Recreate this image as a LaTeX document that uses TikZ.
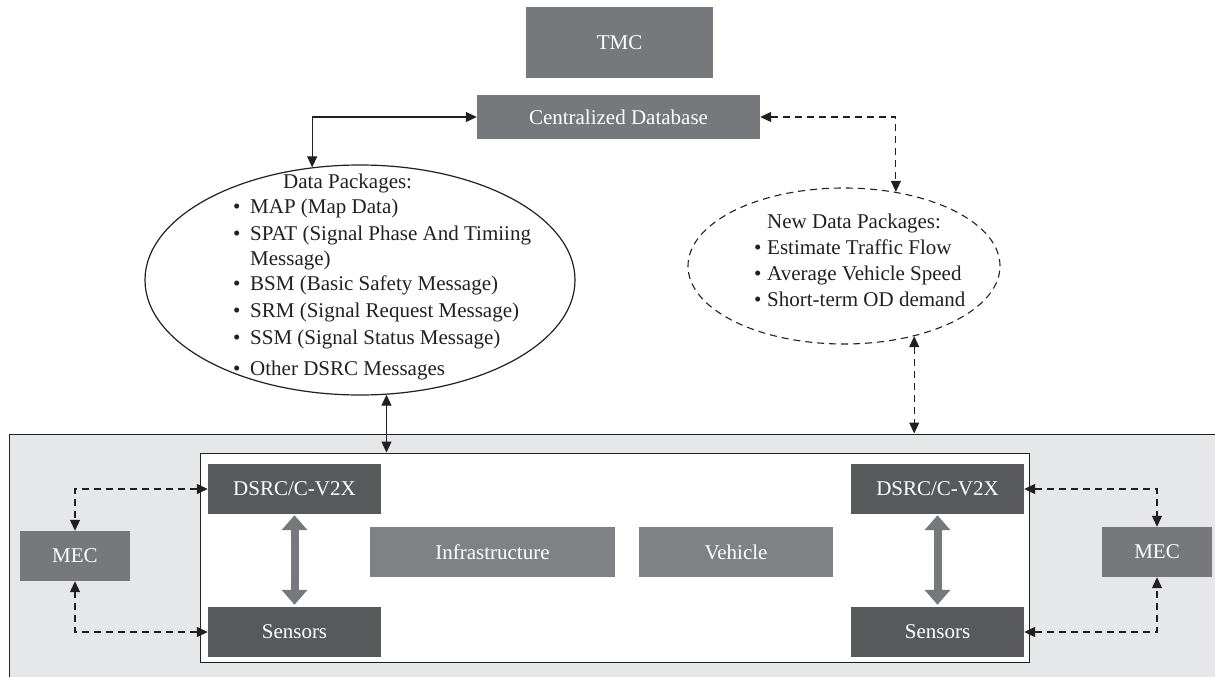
\documentclass[tikz,border=0pt]{standalone}
\usepackage{fontspec}
\setmainfont{Liberation Serif}
\usetikzlibrary{arrows.meta,shapes.geometric}

\definecolor{boxmid}{HTML}{77787B}
\definecolor{boxlight}{HTML}{808184}
\definecolor{boxdark}{HTML}{58595B}
\definecolor{panelfill}{HTML}{E6E7E8}
\definecolor{ink}{HTML}{231F20}

\tikzset{
  lbl/.style={font=\fontsize{21}{25}\selectfont},
  block/.style={rectangle, inner sep=0pt, text=white, lbl},
  midblock/.style={block, fill=boxmid},
  lightblock/.style={block, fill=boxlight},
  darkblock/.style={block, fill=boxdark},
  listline/.style={anchor=base west, inner sep=0pt, text=ink, lbl},
  link/.style={draw=ink, line width=1.2pt, {Triangle[length=11pt,width=10pt]}-{Triangle[length=11pt,width=10pt]}},
  dlink/.style={link, dash pattern=on 7pt off 5pt},
  bigarrow/.style={draw=boxmid, line width=8pt,
    {Triangle[length=15pt,width=25pt]}-{Triangle[length=15pt,width=25pt]}},
}

\begin{document}
\begin{tikzpicture}[x=1pt,y=-1pt]
  \clip (0,0) rectangle (1215,677);

  % top level
  \node[midblock, minimum width=187pt, minimum height=71pt] (tmc) at (619.5,42.5) {TMC};
  \node[midblock, minimum width=283pt, minimum height=44pt] (db) at (618.5,117) {Centralized Database};

  % data package ellipses
  \node[ellipse, draw=ink, line width=1.2pt, minimum width=430pt, minimum height=230pt, inner sep=0pt] (ellL) at (360,280) {};
  \node[ellipse, draw=ink, line width=1.1pt, dash pattern=on 7pt off 5pt, minimum width=312pt, minimum height=156pt, inner sep=0pt] (ellR) at (844,266) {};

  \node[listline] (l0) at (283,188) {Data Packages:};
  \node[listline] (l1) at (233,213) {\makebox[17pt][l]{\textbullet}MAP (Map Data)};
  \node[listline] (l2) at (233,240) {\makebox[17pt][l]{\textbullet}SPAT (Signal Phase And Timiing};
  \node[listline] (l3) at (250,265) {Message)};
  \node[listline] (l4) at (233,290) {\makebox[17pt][l]{\textbullet}BSM (Basic Safety Message)};
  \node[listline] (l5) at (233,317) {\makebox[17pt][l]{\textbullet}SRM (Signal Request Message)};
  \node[listline] (l6) at (233,344) {\makebox[17pt][l]{\textbullet}SSM (Signal Status Message)};
  \node[listline] (l7) at (233,375) {\makebox[17pt][l]{\textbullet}Other DSRC Messages};

  \node[listline] (r0) at (767,228) {New Data Packages:};
  \node[listline] (r1) at (754,254) {\makebox[13pt][l]{\textbullet}Estimate Traffic Flow};
  \node[listline] (r2) at (754,280) {\makebox[13pt][l]{\textbullet}Average Vehicle Speed};
  \node[listline] (r3) at (754,306) {\makebox[13pt][l]{\textbullet}Short-term OD demand};

  % roadside panel and equipment frame
  \node[rectangle, draw=ink, line width=1pt, fill=panelfill, minimum width=1216pt, minimum height=244pt, inner sep=0pt] (panel) at (617,556) {};
  \node[rectangle, draw=ink, line width=1pt, fill=white, minimum width=829pt, minimum height=209pt, inner sep=0pt] (inner) at (614.5,557.5) {};

  \node[darkblock, minimum width=173pt, minimum height=50pt] (dsrcL) at (294.5,489) {DSRC/C-V2X};
  \node[darkblock, minimum width=173pt, minimum height=50pt] (sensL) at (294.5,632) {Sensors};
  \node[darkblock, minimum width=173pt, minimum height=50pt] (dsrcR) at (937.5,489) {DSRC/C-V2X};
  \node[darkblock, minimum width=173pt, minimum height=50pt] (sensR) at (937.5,632) {Sensors};
  \node[lightblock, minimum width=245pt, minimum height=50pt] (infra) at (492.5,552) {Infrastructure};
  \node[lightblock, minimum width=194pt, minimum height=50pt] (veh) at (736,552) {Vehicle};
  \node[midblock, minimum width=110pt, minimum height=50pt] (mecL) at (75,556) {MEC};
  \node[midblock, minimum width=110pt, minimum height=50pt] (mecR) at (1157,552) {MEC};

  % connectors
  \draw[link] (db.west) -| (ellL.113);
  \draw[dlink] (db.east) -| (ellR.55);
  \draw[link] (ellL.283) -- (ellL.283 |- inner.north);
  \draw[dlink] (ellR.315) -- (ellR.315 |- panel.north);

  \draw[dlink] (dsrcL.west) -| (mecL.north);
  \draw[dlink] (sensL.west) -| (mecL.south);
  \draw[dlink] (dsrcR.east) -| (mecR.north);
  \draw[dlink] (sensR.east) -| (mecR.south);

  \draw[bigarrow, shorten <=1pt, shorten >=2pt] (dsrcL.south) -- (sensL.north);
  \draw[bigarrow, shorten <=1pt, shorten >=2pt] (dsrcR.south) -- (sensR.north);
\end{tikzpicture}
\end{document}
